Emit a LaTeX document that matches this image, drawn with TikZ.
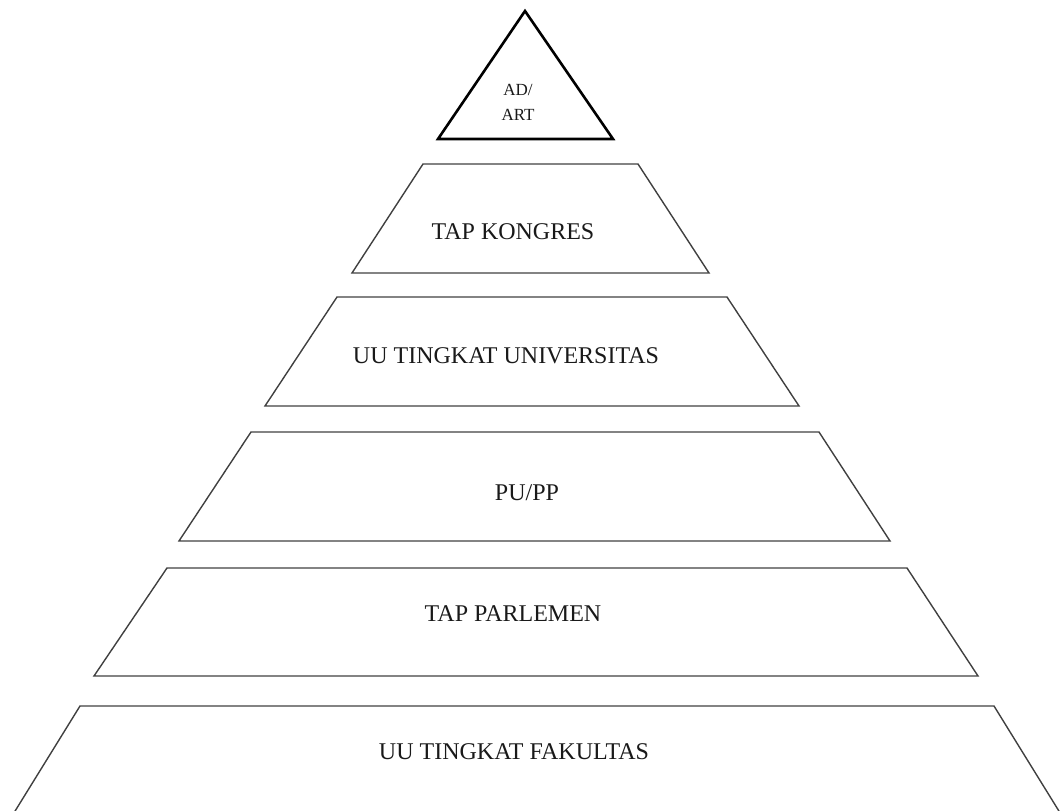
\documentclass[tikz,border=0pt]{standalone}
\usepackage{fontspec}
\setmainfont{Liberation Serif}
\begin{document}
\begin{tikzpicture}[x=1pt,y=-1pt,
  level/.style={draw=black!75, line width=1.4pt, line join=miter},
  apex/.style={draw=black, line width=2.6pt, line join=miter},
  lbl/.style={font=\fontsize{24}{26}\selectfont, text=black!90, inner sep=0pt},
  small/.style={font=\fontsize{17}{25}\selectfont, text=black!90, inner sep=0pt, align=center}]
\useasboundingbox (0,0) rectangle (1061,811);
\clip (0,0) rectangle (1061,811);
% top triangle
\draw[apex] (525,11) -- (613,139) -- (438,139) -- cycle;
\node[small] (adart) at (518,102) {AD/\\ART};
% level 1
\draw[level] (423,164) -- (638,164) -- (709,273) -- (352,273) -- cycle;
\node[lbl] (kongres) at (513,232) {TAP KONGRES};
% level 2
\draw[level] (337,297) -- (727,297) -- (799,406) -- (265,406) -- cycle;
\node[lbl] (univ) at (506,356) {UU TINGKAT UNIVERSITAS};
% level 3
\draw[level] (251,432) -- (819,432) -- (890,541) -- (179,541) -- cycle;
\node[lbl] (pupp) at (527,493) {PU/PP};
% level 4
\draw[level] (167,568) -- (907,568) -- (978,676) -- (94,676) -- cycle;
\node[lbl] (parlemen) at (513,614) {TAP PARLEMEN};
% level 5 (cut by the bottom edge)
\draw[level] (12,816) -- (80,706) -- (994,706) -- (1062,816);
\node[lbl] (fakultas) at (514,752) {UU TINGKAT FAKULTAS};
\end{tikzpicture}
\end{document}
